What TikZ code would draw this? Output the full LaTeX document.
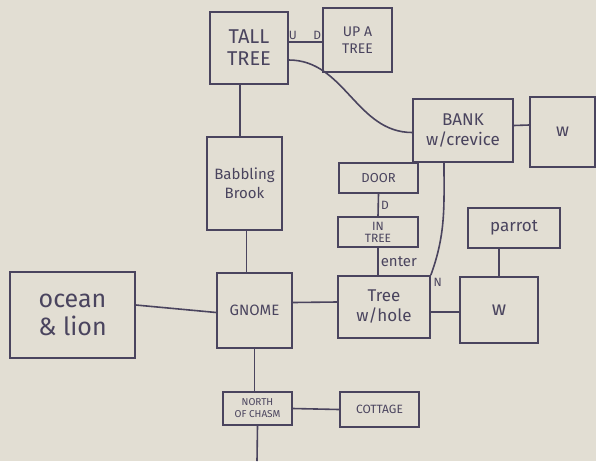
\documentclass[tikz,border=0pt]{standalone}
\usepackage{fontspec}
\setmainfont{Fira Sans}
\definecolor{paper}{RGB}{226,222,211}
\definecolor{ink}{RGB}{74,68,94}

\begin{document}
\begin{tikzpicture}[x=1pt, y=-1pt, every node/.style={text=ink, align=center},
	room/.style={draw=ink, line width=1.6pt, inner sep=0pt},
	link/.style={draw=ink, line width=1.6pt},
	tag/.style={font={\fontsize{12}{12}\selectfont}, inner sep=2pt}]
	\fill[paper] (0,0) rectangle (596,461);
	\useasboundingbox (0,0) rectangle (596,461);
	% rooms
	\node[room, minimum width=78pt, minimum height=72pt, font={\fontsize{20}{22}\selectfont}] (tall) at (249,48) {TALL\\TREE};
	\node[room, minimum width=69pt, minimum height=64pt, font={\fontsize{14}{17}\selectfont}] (up) at (357.5,40) {UP A\\TREE};
	\node[room, minimum width=100pt, minimum height=63pt, font={\fontsize{17}{20}\selectfont}] (bank) at (463,130.5) {BANK\\w/crevice};
	\node[room, minimum width=65pt, minimum height=70pt, font={\fontsize{18}{18}\selectfont}] (wtop) at (562.5,132) {w};
	\node[room, minimum width=79pt, minimum height=30pt, font={\fontsize{13}{13}\selectfont}] (door) at (378.5,178) {DOOR};
	\node[room, minimum width=80pt, minimum height=30pt, font={\fontsize{12}{12}\selectfont}] (intree) at (378,232) {IN\\TREE};
	\node[room, minimum width=92pt, minimum height=62pt, font={\fontsize{17}{20}\selectfont}] (hole) at (384,307) {Tree\\w/hole};
	\node[room, minimum width=78pt, minimum height=66pt, font={\fontsize{20}{20}\selectfont}] (wlow) at (499,310) {w};
	\node[room, minimum width=92pt, minimum height=40pt, font={\fontsize{17}{17}\selectfont}] (parrot) at (514,228) {parrot};
	\node[room, minimum width=75pt, minimum height=93pt, font={\fontsize{15}{19}\selectfont}] (brook) at (244.5,183.5) {Babbling\\Brook};
	\node[room, minimum width=75pt, minimum height=75pt, font={\fontsize{15}{15}\selectfont}] (gnome) at (254.5,310.5) {GNOME};
	\node[room, minimum width=125pt, minimum height=86pt, font={\fontsize{25}{28}\selectfont}] (ocean) at (72.5,315) {ocean\\\& lion};
	\node[room, minimum width=69pt, minimum height=33pt, font={\fontsize{10}{12}\selectfont}] (north) at (257.5,408.5) {NORTH\\OF CHASM};
	\node[room, minimum width=79pt, minimum height=35pt, font={\fontsize{12}{12}\selectfont}] (cottage) at (379.5,409.5) {COTTAGE};
	\coordinate (exit) at (257,461);
	% paths
	\draw[link] ([yshift=6pt]tall.east) -- node[tag, pos=0.12, above] {U} node[tag, pos=0.85, above] {D} (up.west |- 0,42);
	\draw[link] ([yshift=-12pt]tall.east) to[out=0, in=180] ([yshift=-2pt]bank.west);
	\draw[link] ([yshift=5pt]bank.east) -- (wtop.west |- 0,125);
	\draw[link] ([xshift=-19pt]bank.south) to[out=-90, in=70] (hole.north east) node[tag, anchor=north west] {N};
	\draw[link] (door.south) -- node[tag, right] {D} (intree.north);
	\draw[link] (intree.south) -- node[tag, right, font={\fontsize{15}{15}\selectfont}] {enter} (intree.south |- hole.north);
	\draw[link] ([yshift=-5pt]hole.east) -- ([yshift=-2pt]wlow.west);
	\draw[link] (wlow.north) -- (wlow.north |- parrot.south);
	\draw[link] ([yshift=8pt]gnome.east) -- ([yshift=5pt]hole.west);
	\draw[link] ([yshift=10pt]ocean.east) -- ([yshift=-2pt]gnome.west);
	\draw[link] ([xshift=-9pt]tall.south) -- ([xshift=-9pt]tall.south |- brook.north);
	\draw[link] ([xshift=2pt]brook.south) -- ([xshift=2pt]brook.south |- gnome.north);
	\draw[link] (gnome.south) -- (gnome.south |- north.north);
	\draw[link] (north.east) -- (cottage.west);
	\draw[link] (north.south) -- (exit);
\end{tikzpicture}
\end{document}
